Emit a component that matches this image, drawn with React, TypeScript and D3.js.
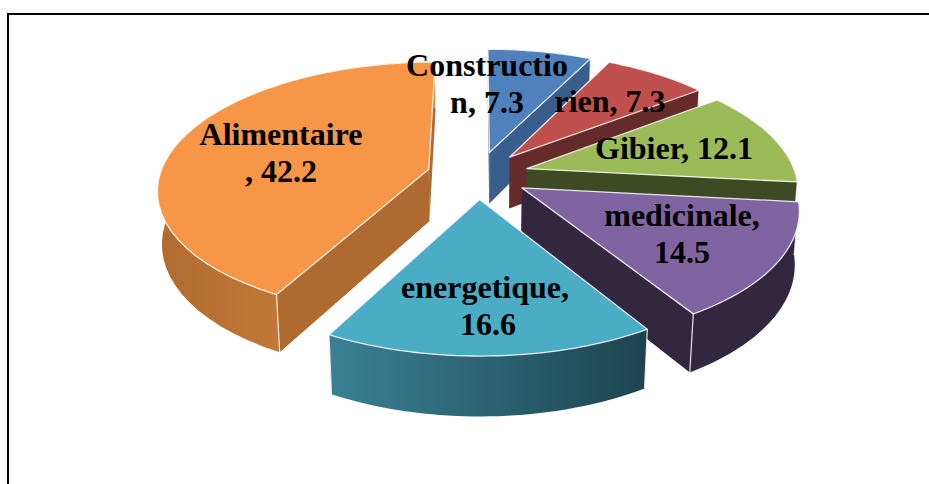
import React from "react";
import * as d3 from "d3";

const categories = ["Construction", "rien", "Gibier", "medicinale", "energetique", "Alimentaire"];
const values = [7.3, 7.3, 12.1, 14.5, 16.6, 42.2];
const lineBreaks = [11, 0, 0, 11, 12, 11];
const topColors = ["#4F81BD", "#C0504D", "#9BBB59", "#8064A2", "#4BACC6", "#F79646"];
const cutColors = ["#395E8B", "#652B2A", "#3E4A23", "#33263F", "#33263F", "#AE6A2F"];
const wallFrom = ["#395E8B", "#652B2A", "#3E4A23", "#33263F", "#3A8195", "#B06B30"];
const wallTo = ["#395E8B", "#652B2A", "#3E4A23", "#33263F", "#1D444F", "#D98A3E"];
const paintOrder = [0, 1, 5, 2, 3, 4];
const labelX = [487, 610, 674, 682, 485, 281];
const labelY = [76, 112, 159, 226, 298, 145];

const W = 929, H = 484;
const cx = 478, cy = 175, B = 269, A = 125, K = 0.15, M = 0.014, DEPTH = 53, EXPLODE = 0.19;

function project(X: number, Z: number, h: number): [number, number] {
  const s = 1 / (1 + K * Z + M * h);
  return [cx + B * X * s, cy - A * Z * s + DEPTH * h * s];
}

export default function App() {
  const arcs = d3.pie<number>().sort(null).value((d) => d)(values);
  const line = d3.line<[number, number]>();

  const slices = arcs.map((a) => {
    const mid = (a.startAngle + a.endAngle) / 2;
    const ox = EXPLODE * Math.sin(mid), oz = EXPLODE * Math.cos(mid);
    const pt = (ang: number, r: number, h: number) =>
      project(ox + r * Math.sin(ang), oz + r * Math.cos(ang), h);
    const angs = d3.range(0, 41).map((i) => a.startAngle + ((a.endAngle - a.startAngle) * i) / 40);
    const rimTop = angs.map((t) => pt(t, 1, 0));
    const rimBot = angs.map((t) => pt(t, 1, 1));
    const apexTop = pt(0, 0, 0), apexBot = pt(0, 0, 1);
    return {
      top: line([apexTop, ...rimTop]) + "Z",
      outer: line([...rimTop, ...rimBot.slice().reverse()]) + "Z",
      cutA: line([apexTop, rimTop[0], rimBot[0], apexBot]) + "Z",
      cutB: line([apexTop, rimTop[40], rimBot[40], apexBot]) + "Z",
      edgeA: line([rimTop[0], rimBot[0]])!,
      edgeB: line([rimTop[40], rimBot[40]])!,
      cutAY: rimTop[0][1],
      cutBY: rimTop[40][1],
    };
  });

  const font = "'Liberation Serif', serif";
  return (
    <svg width={W} height={H} style={{ position: "absolute", left: 0, top: 0 }}>
      <defs>
        {categories.map((c, i) => (
          <linearGradient key={c} id={`wall${i}`} x1="0" x2="1" y1="0" y2="0">
            <stop offset="0" stopColor={wallFrom[i]} />
            <stop offset="1" stopColor={wallTo[i]} />
          </linearGradient>
        ))}
      </defs>
      <rect width={W} height={H} fill="#fff" />
      <path d={`M8 ${H}V14H${W}`} fill="none" stroke="#000" strokeWidth={2} />
      {paintOrder.map((i) => {
        const s = slices[i];
        const first = s.cutAY < s.cutBY ? s.cutA : s.cutB;
        const second = s.cutAY < s.cutBY ? s.cutB : s.cutA;
        return (
          <g key={categories[i]}>
            <path d={first} fill={cutColors[i]} />
            <path d={second} fill={cutColors[i]} />
            <path d={s.outer} fill={`url(#wall${i})`} />
            <path d={s.edgeA} stroke="#fff" strokeOpacity={0.85} strokeWidth={1.2} />
            <path d={s.edgeB} stroke="#fff" strokeOpacity={0.85} strokeWidth={1.2} />
            <path d={s.top} fill={topColors[i]} stroke="#fff" strokeOpacity={0.85} strokeWidth={1.3} strokeLinejoin="round" />
          </g>
        );
      })}
      {categories.map((c, i) => {
        const full = `${c}, ${values[i]}`;
        const br = lineBreaks[i];
        const lines = br ? [full.slice(0, br), full.slice(br).trim()] : [full];
        return (
          <text key={c} textAnchor="middle" fontFamily={font} fontWeight="bold" fontSize={32} fill="#000">
            {lines.map((l, j) => (
              <tspan key={j} x={j === 1 && i === 4 ? labelX[i] + 3 : labelX[i]} y={labelY[i] + j * 36.5}>{l}</tspan>
            ))}
          </text>
        );
      })}
    </svg>
  );
}
